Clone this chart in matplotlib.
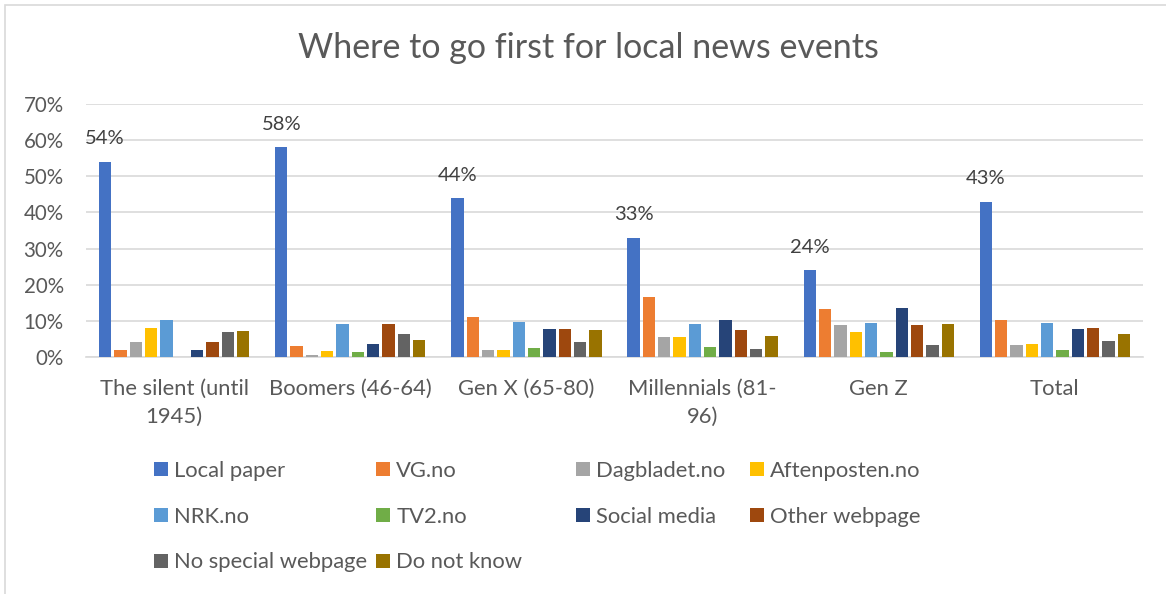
import matplotlib
matplotlib.use('Agg')
import matplotlib.pyplot as plt
from matplotlib.patches import Patch, Rectangle
from matplotlib.ticker import MultipleLocator, PercentFormatter
import numpy as np

plt.rcParams['font.family'] = ['Lato', 'DejaVu Sans']

categories = ['The silent (until\n1945)', 'Boomers (46-64)', 'Gen X (65-80)',
              'Millennials (81-\n96)', 'Gen Z', 'Total']

series_names = ['Local paper', 'VG.no', 'Dagbladet.no', 'Aftenposten.no',
                'NRK.no', 'TV2.no', 'Social media', 'Other webpage',
                'No special webpage', 'Do not know']

local_paper  = [0.54, 0.58, 0.44, 0.33, 0.24, 0.43]
vg           = [0.020, 0.030, 0.112, 0.167, 0.133, 0.102]
dagbladet    = [0.042, 0.005, 0.019, 0.054, 0.088, 0.033]
aftenposten  = [0.080, 0.016, 0.018, 0.054, 0.069, 0.036]
nrk          = [0.102, 0.090, 0.098, 0.090, 0.094, 0.093]
tv2          = [0.000, 0.013, 0.026, 0.028, 0.014, 0.020]
social_media = [0.019, 0.036, 0.077, 0.101, 0.135, 0.077]
other_web    = [0.041, 0.090, 0.077, 0.076, 0.089, 0.080]
no_special   = [0.068, 0.065, 0.042, 0.022, 0.032, 0.043]
dont_know    = [0.071, 0.047, 0.075, 0.057, 0.090, 0.063]

values = [local_paper, vg, dagbladet, aftenposten, nrk, tv2,
          social_media, other_web, no_special, dont_know]

colors = ['#4472C4', '#ED7D31', '#A5A5A5', '#FFC000', '#5B9BD5',
          '#70AD47', '#264478', '#9E480E', '#636363', '#997300']

W, H = 1166, 594
fig = plt.figure(figsize=(W / 100, H / 100), dpi=100)
ax = fig.add_axes([86 / W, 1 - 357 / H, (1143 - 86) / W, (357 - 104) / H])

txt = '#595959'
x = np.arange(len(categories))
step = 0.087
bw = 0.07
for j, vals in enumerate(values):
    ax.bar(x + (j - 4.5) * step, vals, width=bw, color=colors[j], zorder=3)

# labels only on the local paper bars
for i, v in enumerate(local_paper):
    ax.annotate('{:.0%}'.format(v), (x[i] - 4.5 * step, v), xytext=(0, 16.5),
                textcoords='offset points', ha='center', va='center',
                fontsize=14.5, color='#404040')

ax.set_xlim(-0.5, 5.5)
ax.set_ylim(0, 0.7)
ax.yaxis.set_major_locator(MultipleLocator(0.1))
ax.yaxis.set_major_formatter(PercentFormatter(1.0, decimals=0))
ax.grid(axis='y', color='#D9D9D9', linewidth=1.2, zorder=0)
ax.set_axisbelow(True)
for s in ['top', 'right', 'left']:
    ax.spines[s].set_visible(False)
ax.spines['bottom'].set_color('#D9D9D9')
ax.spines['bottom'].set_linewidth(1.2)
ax.set_xticks(x)
ax.set_xticklabels(categories, linespacing=1.5)
ax.tick_params(axis='x', length=0, pad=16, labelsize=15.8, labelcolor=txt)
ax.tick_params(axis='y', length=0, pad=16, labelsize=14.8, labelcolor=txt)

fig.text(0.5047, 1 - 48 / H, 'Where to go first for local news events',
         ha='center', va='center', fontsize=24.5, color=txt)

# legend, laid out as four columns
col_x = [154, 376, 576, 750]
for c in range(4):
    idx = list(range(c, len(series_names), 4))
    handles = [Patch(facecolor=colors[k], edgecolor='none') for k in idx]
    fig.legend(handles, [series_names[k] for k in idx], loc='upper left',
               bbox_to_anchor=(col_x[c] / W, 1 - 461 / H), frameon=False,
               fontsize=15.8, labelcolor=txt, handlelength=0.62, handleheight=0.62,
               handletextpad=0.3, labelspacing=1.17, borderpad=0,
               borderaxespad=0)

# chart frame
fig.patches.append(Rectangle((5 / W, -0.1), 1.1, 1 - 5 / H + 0.1,
                             transform=fig.transFigure, fill=False,
                             edgecolor='#D9D9D9', linewidth=1.2))

fig.savefig('out.png', dpi=100)
